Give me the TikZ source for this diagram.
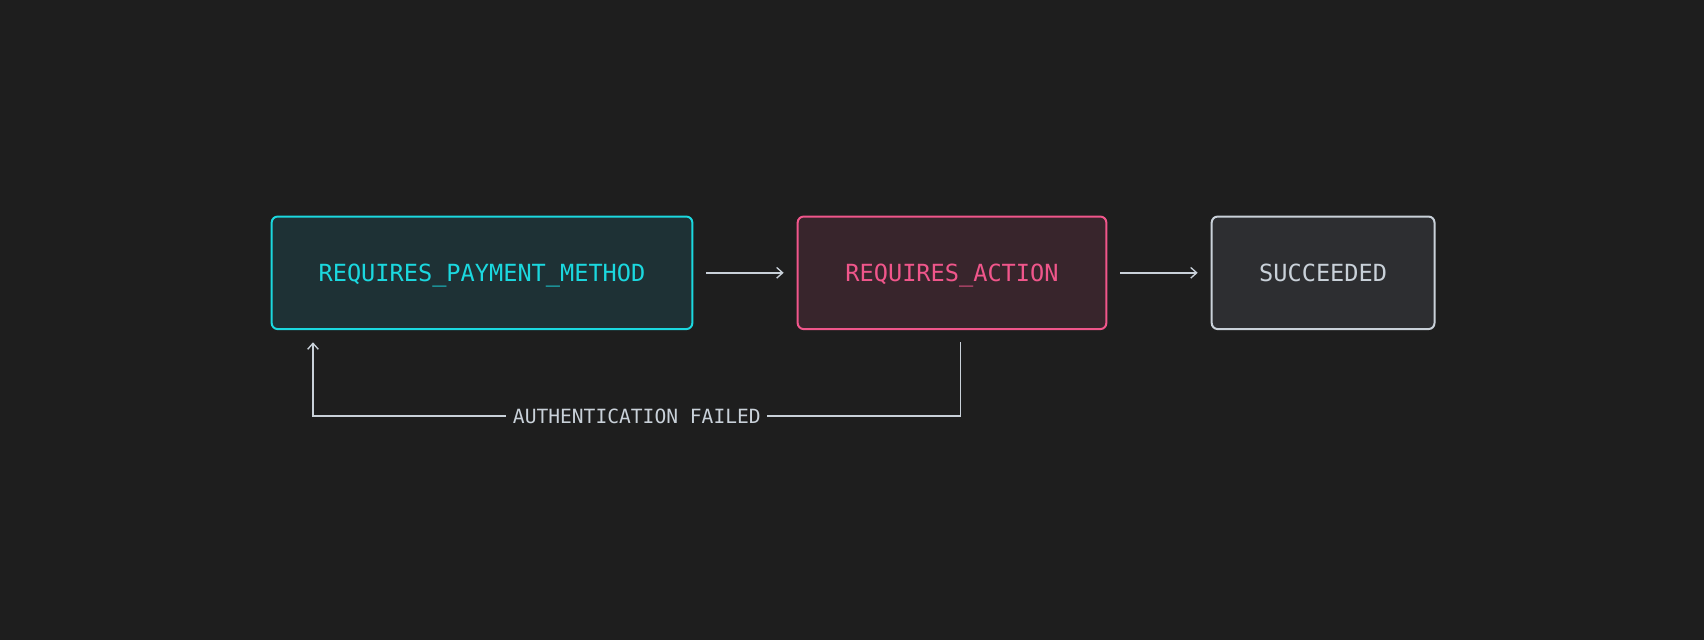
\documentclass[tikz,border=0pt]{standalone}
\usepackage{fontspec}
\setmonofont{DejaVu Sans Mono}
\usetikzlibrary{arrows.meta}
\definecolor{bg}{HTML}{1E1E1E}
\definecolor{cyanb}{HTML}{1BD8DF}
\definecolor{cyanf}{HTML}{1E3135}
\definecolor{pinkb}{HTML}{F0568B}
\definecolor{pinkf}{HTML}{38252C}
\definecolor{greyb}{HTML}{C9D1D9}
\definecolor{greyf}{HTML}{2D2E31}
\tikzset{
  statebox/.style={draw, line width=1.5pt, rounded corners=4.5pt, inner sep=0pt,
    minimum height=84.4pt, text height=12.9pt, text depth=0pt,
    font=\ttfamily\fontsize{17.7}{20}\selectfont},
  conn/.style={draw=greyb, line width=1.1pt, -{Straight Barb[length=4.5pt,width=8pt,line width=1pt]}},
  lbl/.style={fill=bg, inner sep=5pt, text height=10.7pt, text depth=0pt, text=greyb,
    font=\ttfamily\fontsize{14.7}{17}\selectfont},
}
\begin{document}
\begin{tikzpicture}[x=0.75pt,y=-0.75pt]
\fill[bg] (0,0) rectangle (1704,640);
\useasboundingbox (0,0) rectangle (1704,640);
\node[statebox, draw=cyanb, fill=cyanf, text=cyanb, minimum width=315.5pt] (b1) at (482,272.8) {REQUIRES\_PAYMENT\_METHOD};
\node[statebox, draw=pinkb, fill=pinkf, text=pinkb, minimum width=231.5pt] (b2) at (952,272.8) {REQUIRES\_ACTION};
\node[statebox, draw=greyb, fill=greyf, text=greyb, minimum width=167.1pt] (b3) at (1323.1,272.8) {SUCCEEDED};
\draw[conn, shorten <=9.75pt, shorten >=9.75pt] (b1.east) -- (b2.west);
\draw[conn, shorten <=9.75pt, shorten >=9.75pt] (b2.east) -- (b3.west);
\coordinate (c1) at (960.7,342.3);
\coordinate (c2) at (313,342.3);
\draw[conn] (c1) -- (960.7,416.2) -- node[lbl] (fail) {AUTHENTICATION FAILED} (313,416.2) -- (c2);
\end{tikzpicture}
\end{document}
